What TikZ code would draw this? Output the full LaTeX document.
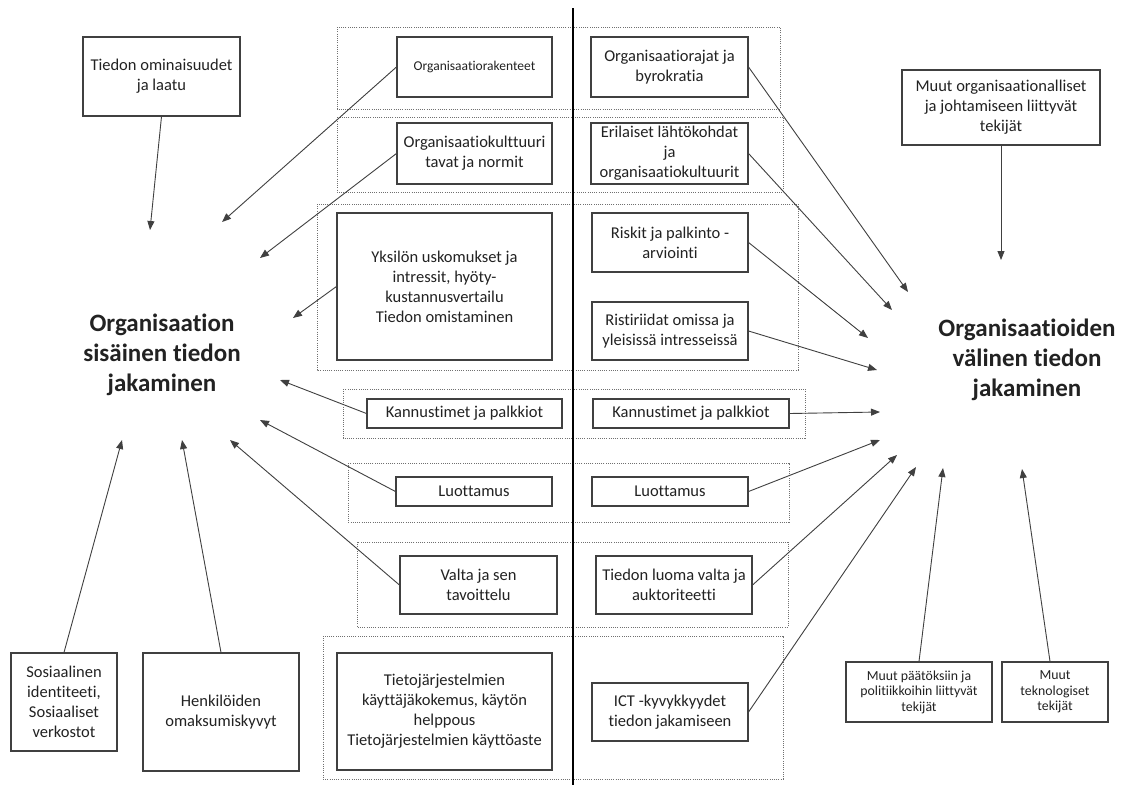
\documentclass[tikz,border=0pt]{standalone}
\usepackage{fontspec}
\setmainfont{Carlito}[Ligatures={NoCommon}]
\usetikzlibrary{arrows.meta}
\definecolor{boxc}{HTML}{404040}
\definecolor{txtc}{HTML}{222222}
\definecolor{dotc}{HTML}{707070}
\begin{document}
\begin{tikzpicture}[x=1pt,y=-1pt,
  bx/.style={draw=boxc, line width=1.1pt, align=center, inner sep=0pt, text=txtc,
    font=\fontsize{16.5}{20}\selectfont},
  smallbx/.style={bx, font=\fontsize{13.8}{15.5}\selectfont},
  tinybx/.style={bx, font=\fontsize{13.5}{15}\selectfont},
  grp/.style={draw=dotc, line width=0.8pt, dash pattern=on 1pt off 1.2pt},
  ttl/.style={align=center, inner sep=0pt, text=txtc, font=\fontsize{25}{30}\bfseries\selectfont},
  arr/.style={draw=boxc, line width=0.9pt, -{Triangle[length=9pt,width=7pt]}}]
\useasboundingbox (0,0) rectangle (1123,787);
\fill[white] (0,0) rectangle (1123,787);
% dotted groups
\draw[grp] (337,27) rectangle (780,109);
\draw[grp] (337,117) rectangle (783,192);
\draw[grp] (317,204) rectangle (798,370);
\draw[grp] (343,389) rectangle (805,438);
\draw[grp] (348,463) rectangle (789,522);
\draw[grp] (357,542) rectangle (788,627);
\draw[grp] (323,636) rectangle (783,779);
% central divider
\coordinate (vtop) at (573,8);
\coordinate (vbot) at (573,785);
\draw[line width=1.8pt] (vtop) -- (vbot);
% titles
\node[ttl] (inner) at (162,355) {Organisaation\\sisäinen tiedon\\jakaminen};
\node[ttl] (outer) at (1027,360) {Organisaatioiden\\välinen tiedon\\jakaminen};
% boxes
\node[bx, minimum width=157, minimum height=79] (tom) at (161.5,76.5) {Tiedon ominaisuudet\\ja laatu};
\node[tinybx, minimum width=155, minimum height=60] (ork) at (474.5,67) {Organisaatiorakenteet};
\node[bx, minimum width=157, minimum height=60] (orr) at (669.5,67) {Organisaatiorajat ja\\byrokratia};
\node[bx, minimum width=155, minimum height=61] (okk) at (474.5,153.5) {Organisaatiokulttuuri\\tavat ja normit};
\node[bx, minimum width=157, minimum height=61] (eri) at (669.5,153.5) {Erilaiset lähtökohdat\\ja\\organisaatiokultuurit};
\node[bx, minimum width=215, minimum height=147] (yks) at (444.5,286.5) {Yksilön uskomukset ja\\intressit, hyöty-\\kustannusvertailu\\Tiedon omistaminen};
\node[bx, minimum width=156, minimum height=59] (ris) at (670,242.5) {Riskit ja palkinto -\\arviointi};
\node[bx, minimum width=156, minimum height=58] (rst) at (670,331) {Ristiriidat omissa ja\\yleisissä intresseissä};
\node[bx, minimum width=195, minimum height=29] (kal) at (464.5,413.5) {Kannustimet ja palkkiot};
\node[bx, minimum width=196, minimum height=29] (kar) at (691,413.5) {Kannustimet ja palkkiot};
\node[bx, minimum width=156, minimum height=29] (lul) at (474,491.5) {Luottamus};
\node[bx, minimum width=156, minimum height=29] (lur) at (670,491.5) {Luottamus};
\node[bx, minimum width=157, minimum height=58] (val) at (478.5,585) {Valta ja sen\\tavoittelu};
\node[bx, minimum width=156, minimum height=58] (tlv) at (674,585) {Tiedon luoma valta ja\\auktoriteetti};
\node[bx, minimum width=215, minimum height=117] (tjs) at (444.5,711.5) {Tietojärjestelmien\\käyttäjäkokemus, käytön\\helppous\\Tietojärjestelmien käyttöaste};
\node[bx, minimum width=156, minimum height=58] (ict) at (670,712) {ICT -kyvykkyydet\\tiedon jakamiseen};
\node[bx, minimum width=198, minimum height=75] (mor) at (1001,107.5) {Muut organisaationalliset\\ja johtamiseen liittyvät\\tekijät};
\node[smallbx, minimum width=146, minimum height=60] (mpp) at (919,692) {Muut päätöksiin ja\\politiikkoihin liittyvät\\tekijät};
\node[smallbx, minimum width=106, minimum height=60] (mtk) at (1055,692) {Muut\\teknologiset\\tekijät};
\node[bx, minimum width=106, minimum height=98] (sos) at (64,702) {Sosiaalinen\\identiteeti,\\Sosiaaliset\\verkostot};
\node[bx, minimum width=156, minimum height=118] (hen) at (221,712) {Henkilöiden\\omaksumiskyvyt};
% arrow tips
\coordinate (tL1) at (150,230);
\coordinate (tL2) at (222,222);
\coordinate (tL3) at (260,258);
\coordinate (tL4) at (293,318);
\coordinate (tL5) at (280,380);
\coordinate (tL6) at (260,420);
\coordinate (tL7) at (230,440);
\coordinate (tL8) at (122,440);
\coordinate (tL9) at (182,440);
\coordinate (tR0) at (1001,260);
\coordinate (tR1) at (908,292);
\coordinate (tR2) at (892,310);
\coordinate (tR3) at (868,338);
\coordinate (tR4) at (877,370);
\coordinate (tR5) at (880,412);
\coordinate (tR6) at (880,440);
\coordinate (tR7) at (897,455);
\coordinate (tR8) at (916,467);
\coordinate (tR9) at (943,468);
\coordinate (tR10) at (1022,469);
% left connectors
\draw[arr] (tom.south) -- (tL1);
\draw[arr] (ork.west) -- (tL2);
\draw[arr] (okk.west) -- (tL3);
\draw[arr] (yks.west) -- (tL4);
\draw[arr] (kal.west) -- (tL5);
\draw[arr] (lul.west) -- (tL6);
\draw[arr] (val.west) -- (tL7);
\draw[arr] (sos.north) -- (tL8);
\draw[arr] (hen.north) -- (tL9);
% right connectors
\draw[arr] (mor.south) -- (tR0);
\draw[arr] (orr.east) -- (tR1);
\draw[arr] (eri.east) -- (tR2);
\draw[arr] (ris.east) -- (tR3);
\draw[arr] (rst.east) -- (tR4);
\draw[arr] (kar.east) -- (tR5);
\draw[arr] (lur.east) -- (tR6);
\draw[arr] (tlv.east) -- (tR7);
\draw[arr] (ict.east) -- (tR8);
\draw[arr] (mpp.north) -- (tR9);
\draw[arr] ([xshift=-5pt]mtk.north) -- (tR10);
\end{tikzpicture}
\end{document}
